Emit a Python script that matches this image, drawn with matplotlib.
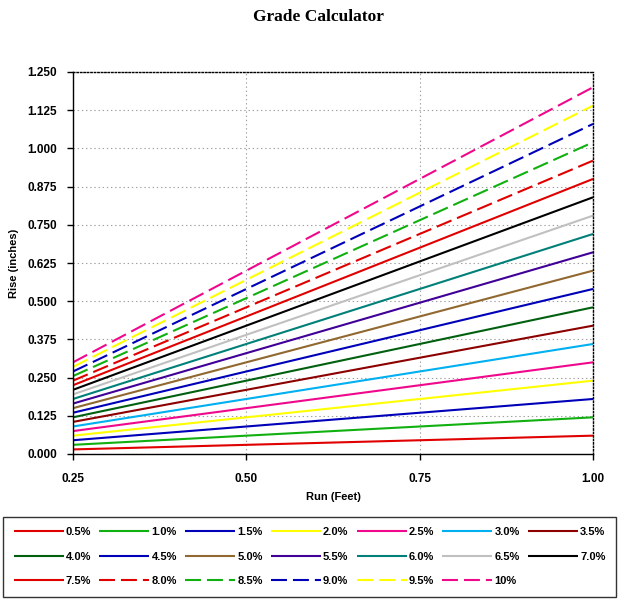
import matplotlib
matplotlib.use('Agg')
import matplotlib.pyplot as plt
from matplotlib.ticker import FormatStrFormatter

# Run in feet (x) and rise in inches for each grade
run_ft = [0.25, 0.50, 0.75, 1.00]
labels = ['0.5%', '1.0%', '1.5%', '2.0%', '2.5%', '3.0%', '3.5%',
          '4.0%', '4.5%', '5.0%', '5.5%', '6.0%', '6.5%', '7.0%',
          '7.5%', '8.0%', '8.5%', '9.0%', '9.5%', '10%']
rise_0_5 = [0.015, 0.030, 0.045, 0.060]
rise_1_0 = [0.030, 0.060, 0.090, 0.120]
rise_1_5 = [0.045, 0.090, 0.135, 0.180]
rise_2_0 = [0.060, 0.120, 0.180, 0.240]
rise_2_5 = [0.075, 0.150, 0.225, 0.300]
rise_3_0 = [0.090, 0.180, 0.270, 0.360]
rise_3_5 = [0.105, 0.210, 0.315, 0.420]
rise_4_0 = [0.120, 0.240, 0.360, 0.480]
rise_4_5 = [0.135, 0.270, 0.405, 0.540]
rise_5_0 = [0.150, 0.300, 0.450, 0.600]
rise_5_5 = [0.165, 0.330, 0.495, 0.660]
rise_6_0 = [0.180, 0.360, 0.540, 0.720]
rise_6_5 = [0.195, 0.390, 0.585, 0.780]
rise_7_0 = [0.210, 0.420, 0.630, 0.840]
rise_7_5 = [0.225, 0.450, 0.675, 0.900]
rise_8_0 = [0.240, 0.480, 0.720, 0.960]
rise_8_5 = [0.255, 0.510, 0.765, 1.020]
rise_9_0 = [0.270, 0.540, 0.810, 1.080]
rise_9_5 = [0.285, 0.570, 0.855, 1.140]
rise_10 = [0.300, 0.600, 0.900, 1.200]

series = [rise_0_5, rise_1_0, rise_1_5, rise_2_0, rise_2_5, rise_3_0, rise_3_5,
          rise_4_0, rise_4_5, rise_5_0, rise_5_5, rise_6_0, rise_6_5, rise_7_0,
          rise_7_5, rise_8_0, rise_8_5, rise_9_0, rise_9_5, rise_10]

colors = ['#e00000', '#10b010', '#0000b8', '#ffff00', '#f0088c', '#00b0f0', '#8c0000',
          '#006010', '#0000b8', '#906830', '#400098', '#008078', '#c0c0c0', '#000000',
          '#e00000', '#e00000', '#10b010', '#0000b8', '#ffff00', '#f0088c']
dashed = [False] * 15 + [True] * 5

plt.rcParams['font.family'] = ['Liberation Sans', 'DejaVu Sans']
plt.rcParams['lines.scale_dashes'] = False

fig = plt.figure(figsize=(6.19, 6.01), dpi=100)
ax = fig.add_axes([73 / 619, 1 - 454 / 601, 520 / 619, 382 / 601])

handles = []
for ys, lab, col, dsh in zip(series, labels, colors, dashed):
    line, = ax.plot(run_ft, ys, color=col, linewidth=1.5, label=lab,
                    solid_capstyle='butt', dash_capstyle='butt')
    if dsh:
        line.set_dashes((11.5, 4.3))
    handles.append(line)

ax.set_xlim(0.25, 1.0)
ax.set_ylim(0.0, 1.25)
ax.set_xticks([0.25, 0.50, 0.75, 1.00])
ax.set_yticks([i * 0.125 for i in range(11)])
ax.xaxis.set_major_formatter(FormatStrFormatter('%.2f'))
ax.yaxis.set_major_formatter(FormatStrFormatter('%.3f'))
ax.tick_params(axis='both', direction='out', length=4, width=1, color='black',
               labelsize=8.5)
ax.tick_params(axis='x', pad=9.5)
ax.tick_params(axis='y', pad=7.5)
for t in ax.get_xticklabels() + ax.get_yticklabels():
    t.set_fontweight('bold')

ax.grid(True, color='#a0a0a0', linestyle=(0, (1, 2)), linewidth=0.8)
for side in ['top', 'right']:
    ax.spines[side].set_linestyle((0, (1, 1.5)))
    ax.spines[side].set_linewidth(1)
for side in ['left', 'bottom']:
    ax.spines[side].set_linewidth(1)

ax.set_xlabel('Run (Feet)', fontsize=8, fontweight='bold')
ax.set_ylabel('Rise (inches)', fontsize=8, fontweight='bold')
ax.xaxis.set_label_coords(0.5, -(492 - 454) / 382)
ax.yaxis.set_label_coords(-(73 - 19) / 520, 0.5)

fig.text(318 / 619, 1 - 17 / 601, 'Grade Calculator', ha='center', va='center',
         fontsize=12.5, fontweight='bold', family='Liberation Serif')

# legend reads row by row in the reference; matplotlib fills by column
ncol = 7
order = [i * ncol + j for j in range(ncol) for i in range(3) if i * ncol + j < len(labels)]
leg = fig.legend([handles[k] for k in order], [labels[k] for k in order],
                 loc='center', ncol=ncol, mode='expand',
                 bbox_to_anchor=(3 / 619, 3 / 601, 613 / 619, 83 / 601),
                 frameon=True, fancybox=False, edgecolor='black',
                 prop={'weight': 'bold', 'size': 8},
                 handlelength=4.5, handletextpad=0.2, columnspacing=0.8,
                 labelspacing=1.3, borderpad=0.95, borderaxespad=0)
leg.get_frame().set_linewidth(1)

fig.savefig('out.png', dpi=100)
